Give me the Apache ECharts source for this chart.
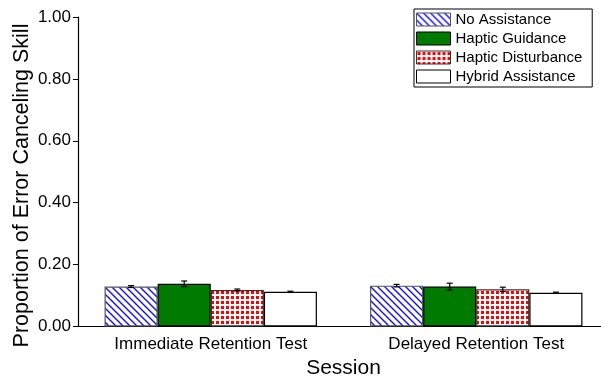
<!DOCTYPE html>
<html><head><meta charset="utf-8">
<script src="https://cdn.jsdelivr.net/npm/echarts@6/dist/echarts.min.js"></script>
<style>html,body{margin:0;padding:0;background:#fff}#c{width:601px;height:376px}</style>
</head><body><div id="c"></div>
<script>
var categories = ['Immediate Retention Test', 'Delayed Retention Test'];
var seriesNames = ['No Assistance', 'Haptic Guidance', 'Haptic Disturbance', 'Hybrid Assistance'];
var noAssistance = [0.129, 0.132];
var noAssistanceErr = [0.003, 0.004];
var hapticGuidance = [0.138, 0.129];
var hapticGuidanceErr = [0.009, 0.011];
var hapticDisturbance = [0.118, 0.120];
var hapticDisturbanceErr = [0.003, 0.007];
var hybridAssistance = [0.112, 0.109];
var hybridAssistanceErr = [0.002, 0.002];
var yTicks = [0, 0.2, 0.4, 0.6, 0.8, 1.0];
var yTitle = 'Proportion of Error Canceling Skill';
var xTitle = 'Session';

var values = [noAssistance, hapticGuidance, hapticDisturbance, hybridAssistance];
var errs = [noAssistanceErr, hapticGuidanceErr, hapticDisturbanceErr, hybridAssistanceErr];

function diagPattern() {
  var c = document.createElement('canvas'); c.width = 7; c.height = 7;
  var g = c.getContext('2d');
  g.fillStyle = '#fff'; g.fillRect(0, 0, 7, 7);
  g.strokeStyle = '#0f0fff'; g.lineWidth = 1.4;
  g.beginPath();
  g.moveTo(-1, -1); g.lineTo(8, 8);
  g.moveTo(-1, 6); g.lineTo(1, 8);
  g.moveTo(6, -1); g.lineTo(8, 1);
  g.stroke();
  return { image: c, repeat: 'repeat' };
}
function gridPattern() {
  var c = document.createElement('canvas'); c.width = 5; c.height = 5;
  var g = c.getContext('2d');
  g.fillStyle = '#fff'; g.fillRect(0, 0, 5, 5);
  g.fillStyle = '#ff0000'; g.fillRect(1, 1, 3, 3);
  return { image: c, repeat: 'repeat' };
}
var fills = [diagPattern(), '#007a00', gridPattern(), '#ffffff'];
var borders = ['#555555', '#000000', '#333333', '#000000'];
var font = 'Liberation Sans, Arial, sans-serif';

var series = [];
for (var s = 0; s < 4; s++) {
  series.push({
    name: seriesNames[s], type: 'bar', data: values[s],
    barGap: '0%', barCategoryGap: '20%',
    itemStyle: { color: fills[s], borderColor: borders[s], borderWidth: 1.2 },
    emphasis: { disabled: true }
  });
}
var errData = [];
for (var s2 = 0; s2 < 4; s2++) {
  for (var i = 0; i < categories.length; i++) {
    errData.push([i, values[s2][i], errs[s2][i], s2]);
  }
}
series.push({
  type: 'custom', name: 'err', z: 10, silent: true,
  data: errData,
  renderItem: function (params, api) {
    var ci = api.value(0), v = api.value(1), e = api.value(2), si = api.value(3);
    var band = api.size([1, 0])[0];
    var off = (si - 1.5) * band * 0.2;
    var top = api.coord([ci, v + e]);
    var bot = api.coord([ci, v - e]);
    var x = top[0] + off;
    var hw = 3;
    var st = { stroke: '#000', lineWidth: 1.2 };
    return { type: 'group', children: [
      { type: 'line', shape: { x1: x, y1: top[1], x2: x, y2: bot[1] }, style: st },
      { type: 'line', shape: { x1: x - hw, y1: top[1], x2: x + hw, y2: top[1] }, style: st },
      { type: 'line', shape: { x1: x - hw, y1: bot[1], x2: x + hw, y2: bot[1] }, style: st }
    ]};
  }
});

var chart = echarts.init(document.getElementById('c'), null, { renderer: 'canvas' });
chart.setOption({
  animation: false,
  backgroundColor: '#fff',
  textStyle: { fontFamily: font },
  grid: { left: 78, top: 17, bottom: 49.5, right: -8, containLabel: false, outerBoundsMode: 'none' },
  graphic: [{
    type: 'text', x: 33, y: 185.5, rotation: Math.PI / 2,
    style: { text: yTitle, fontFamily: font, fontSize: 21.5, fill: '#000',
      align: 'center', verticalAlign: 'bottom' }
  }],
  legend: {
    data: seriesNames, orient: 'vertical', left: 414, top: 9,
    icon: 'rect',
    itemWidth: 34, itemHeight: 13, itemGap: 4,
    padding: [3, 10, 3, 2],
    borderColor: '#000', borderWidth: 1, backgroundColor: '#fff',
    itemStyle: { borderWidth: 1 },
    textStyle: { fontFamily: font, fontSize: 15, color: '#000', padding: [0, 0, 0, 0] },
    selectedMode: false
  },
  xAxis: [{
    type: 'category', data: categories,
    axisLine: { lineStyle: { color: '#000', width: 1.2 } },
    axisTick: { alignWithLabel: true, length: 6, lineStyle: { color: '#000' } },
    axisLabel: { fontFamily: font, fontSize: 17, color: '#000', margin: 9 },
    name: xTitle, nameLocation: 'middle', nameGap: 20,
    nameTextStyle: { fontFamily: font, fontSize: 21, color: '#000' }
  }, {
    type: 'category', data: categories, position: 'bottom',
    axisLine: { show: false },
    axisTick: { length: 3, lineStyle: { color: '#000' } },
    axisLabel: { show: false }
  }],
  yAxis: {
    type: 'value', min: 0, max: 1, interval: 0.2,
    splitLine: { show: false },
    axisLine: { show: true, lineStyle: { color: '#000', width: 1.2 } },
    axisTick: { show: true, length: 5, lineStyle: { color: '#000' } },
    axisLabel: { fontFamily: font, fontSize: 17, color: '#000', margin: 7,
      formatter: function (v) { return v.toFixed(2); } }
  },
  series: series
});
</script></body></html>
